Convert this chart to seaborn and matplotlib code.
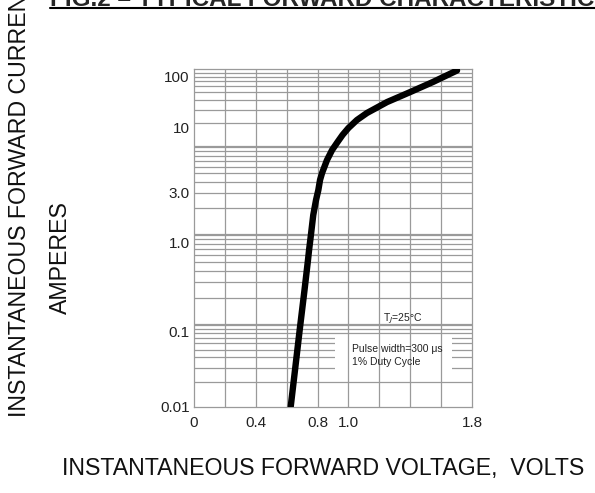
import numpy as np
import matplotlib
matplotlib.use("Agg")
import matplotlib.pyplot as plt
import seaborn as sns
from matplotlib.ticker import FixedLocator, FixedFormatter, NullFormatter
from matplotlib.patches import Rectangle
from matplotlib.lines import Line2D

# curve (volts, amperes)
voltage = [0.626, 0.654, 0.684, 0.715, 0.738, 0.745, 0.757, 0.772, 0.790, 0.805,
           0.816, 0.829, 0.861, 0.894, 0.929, 0.962, 1.000, 1.055, 1.120, 1.250,
           1.399, 1.548, 1.703]
current = [0.010, 0.031, 0.104, 0.29, 0.64, 0.83, 1.19, 1.84, 2.57, 3.17,
           3.82, 4.34, 5.52, 6.65, 7.7, 8.8, 10.0, 14.3, 19.6, 32,
           50, 79, 132]

ytick_values = [0.01, 0.1, 1.0, 3.0, 10, 100]
ytick_labels = ["0.01", "0.1", "1.0", "3.0", "10", "100"]
xtick_values = [0, 0.4, 0.8, 1.0, 1.8]
xtick_labels = ["0", "0.4", "0.8", "1.0", "1.8"]

# the printed labels are not evenly spaced on the page, so the y axis is a
# piecewise log scale through where each label sits (axes fraction)
LABEL_LOG = np.log10(ytick_values)
LABEL_POS = [0.0, 0.2221, 0.4856, 0.6328, 0.8253, 0.9772]
# the graph paper underneath has its own (uneven) decades
PAPER_LOG = [-2, -1, 0, 1, 2]
PAPER_POS = [0.0, 0.2419, 0.5084, 0.769, 1.0]


def pw(x, xs, ys):
    x = np.asarray(x, dtype=float)
    xs = np.asarray(xs, dtype=float)
    ys = np.asarray(ys, dtype=float)
    y = np.interp(x, xs, ys)
    lo = ys[0] + (x - xs[0]) * (ys[1] - ys[0]) / (xs[1] - xs[0])
    hi = ys[-1] + (x - xs[-1]) * (ys[-1] - ys[-2]) / (xs[-1] - xs[-2])
    y = np.where(x < xs[0], lo, y)
    y = np.where(x > xs[-1], hi, y)
    return y


def fwd(v):
    return pw(np.log10(np.maximum(np.asarray(v, dtype=float), 1e-12)), LABEL_LOG, LABEL_POS)


def inv(p):
    return 10 ** pw(p, LABEL_POS, LABEL_LOG)


def paper_to_value(v):
    return inv(pw(np.log10(v), PAPER_LOG, PAPER_POS))


sns.set_style("white")
plt.rcParams["font.family"] = ["Liberation Sans", "DejaVu Sans"]

fig = plt.figure(figsize=(5.95, 4.93), dpi=100)
ax = fig.add_axes([0.3261, 0.1751, 0.4672, 0.685])

grid_c = "#9a9a9a"

sns.lineplot(x=voltage, y=current, ax=ax, color="black", lw=4.6,
             solid_capstyle="round", solid_joinstyle="round", zorder=5)

ax.set_yscale("function", functions=(fwd, inv))
ax.set_xlim(0, 1.8)
ax.set_ylim(0.01, float(inv(1.0)))

# graph paper lines
paper_minor = [k * 10.0 ** d for d in (-2, -1, 0, 1) for k in range(2, 10)]
ax.yaxis.set_major_locator(FixedLocator(ytick_values))
ax.yaxis.set_major_formatter(FixedFormatter(ytick_labels))
ax.yaxis.set_minor_locator(FixedLocator(paper_to_value(paper_minor)))
ax.yaxis.set_minor_formatter(NullFormatter())
for d in [0.1, 1, 10]:
    ax.axhline(float(paper_to_value(d)), color=grid_c, lw=1.6, zorder=1)

ax.xaxis.set_major_locator(FixedLocator(xtick_values))
ax.xaxis.set_major_formatter(FixedFormatter(xtick_labels))
# vertical paper lines run over the blank note patch
for xv in np.arange(0.2, 1.7, 0.2):
    ax.axvline(xv, color=grid_c, lw=0.9, zorder=2.5)

ax.grid(which="minor", axis="y", color=grid_c, lw=0.9)
ax.grid(which="major", visible=False)
ax.set_axisbelow(True)

ax.tick_params(which="both", length=0)
ax.tick_params(axis="y", labelsize=11, pad=3, colors="#222222")
ax.tick_params(axis="x", labelsize=11, pad=7, colors="#222222")
for s in ax.spines.values():
    s.set_color(grid_c)
    s.set_linewidth(0.9)

ax.set_xlabel("")
ax.set_ylabel("")

# blank patch behind the test-condition note
ax.add_patch(Rectangle((0.507, 0.094), 0.421, 0.115, transform=ax.transAxes,
                       facecolor="white", edgecolor="none", zorder=2))
ax.text(0.752, 0.26, "T$_J$=25\u00b0C", transform=ax.transAxes, fontsize=7.5,
        ha="center", va="center", color="#222222", zorder=3)
ax.text(0.567, 0.152, "Pulse width=300 \u03bcs\n1% Duty Cycle", transform=ax.transAxes,
        fontsize=7.5, ha="left", va="center", linespacing=1.35, color="#222222", zorder=3)

# page text around the chart
fig.text(50 / 595, 1 - 6 / 493, "FIG.2 \u2013 TYPICAL FORWARD CHARACTERISTICS",
         fontsize=17.5, fontweight="bold", ha="left", va="baseline")
fig.add_artist(Line2D([50 / 595, 1.0], [1 - 7.5 / 493, 1 - 7.5 / 493], color="black", lw=1.5))
fig.text(20 / 595, 1 - 417 / 493, "INSTANTANEOUS FORWARD CURRENT", fontsize=16.7,
         rotation=90, rotation_mode="anchor", ha="left", va="center", color="#111111")
fig.text(60 / 595, 1 - 258 / 493, "AMPERES", fontsize=16.7, rotation=90,
         ha="center", va="center", color="#111111")
fig.text(323 / 595, 1 - 468 / 493, "INSTANTANEOUS FORWARD VOLTAGE,  VOLTS",
         fontsize=16.7, ha="center", va="center", color="#111111")

fig.savefig("out.png", dpi=100)
